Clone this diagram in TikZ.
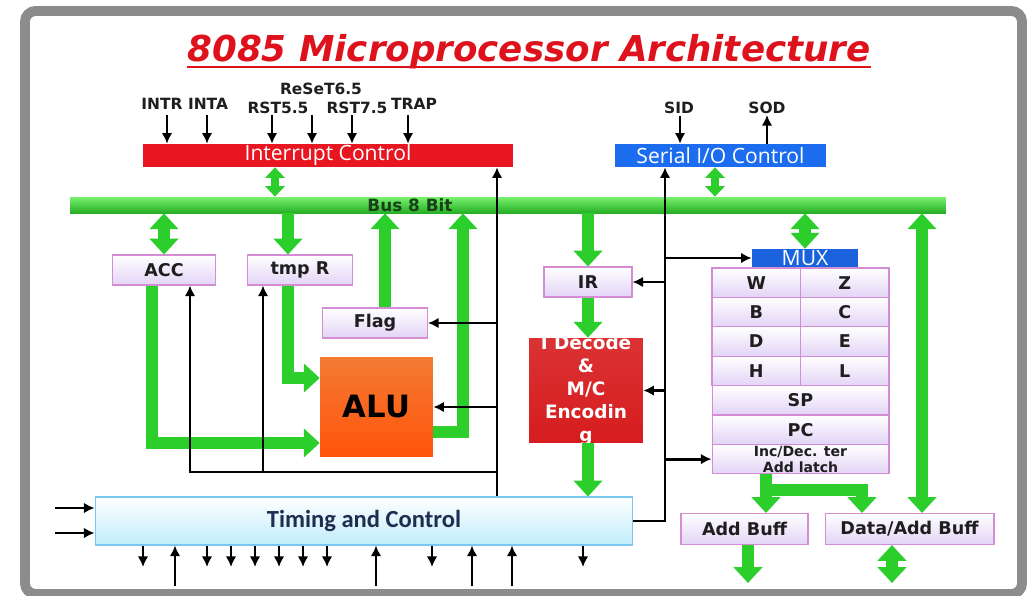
\documentclass[tikz,border=0pt]{standalone}
\usepackage{fontspec}
\setmainfont{DejaVu Sans}
\newfontfamily\osans{Open Sans}
\newfontfamily\carl{Carlito}
\usetikzlibrary{arrows.meta,calc}

\definecolor{framegray}{RGB}{140,140,140}
\definecolor{titlered}{RGB}{222,18,28}
\definecolor{intred}{RGB}{232,22,32}
\definecolor{decred}{RGB}{214,28,30}
\definecolor{sioblue}{RGB}{28,108,240}
\definecolor{gbus}{RGB}{44,206,44}
\definecolor{gbushi}{RGB}{120,240,110}
\definecolor{lavfill}{RGB}{226,212,246}
\definecolor{lavline}{RGB}{212,140,212}
\definecolor{tcfill}{RGB}{192,236,250}
\definecolor{tcline}{RGB}{120,200,240}
\definecolor{aluhi}{RGB}{244,122,52}
\definecolor{alulo}{RGB}{255,84,10}
\definecolor{navy}{RGB}{30,45,80}
\definecolor{ink}{RGB}{30,30,30}

\tikzset{
  reg/.style={
    draw=lavline,
    line width=0.6pt,
    top color=white,
    bottom color=lavfill,
    inner sep=0pt,
    text=ink,
    font=\bfseries\fontsize{10}{12}\selectfont
  },
  ctlbar/.style={
    inner sep=0pt,
    text=white,
    font=\osans\fontsize{12}{14}\selectfont
  },
  pinlbl/.style={
    inner sep=0pt,
    text=ink,
    font=\bfseries\fontsize{8.8}{10}\selectfont
  },
  sig/.style={
    draw=black,
    line width=1.6pt,
    -{Latex[length=6pt,width=6pt]}
  },
  gone/.style={
    draw=gbus,
    line width=6.8pt,
    -{Triangle[length=9pt,width=16pt]}
  },
  gtwo/.style={
    draw=gbus,
    line width=6.8pt,
    {Triangle[length=9pt,width=16pt]}-{Triangle[length=9pt,width=16pt]}
  },
  gsmall/.style={
    draw=gbus,
    line width=5pt,
    {Triangle[length=6pt,width=11pt]}-{Triangle[length=6pt,width=11pt]}
  },
}

\begin{document}
\begin{tikzpicture}[x=0.02cm,y=-0.02cm]
  \useasboundingbox (0,0) rectangle (1027,595);
  \fill[white] (0,0) rectangle (1027,595);
  \draw[framegray, line width=5.6pt, rounded corners=6pt] (25,11) rectangle (1022,594);

  % title
  \node[anchor=base, inner sep=0pt, text=titlered,
        font=\bfseries\itshape\fontsize{20.3}{24}\selectfont] (title) at (529,61)
        {8085 Microprocessor Architecture};
  \draw[titlered, line width=1.4pt] ([yshift=-3.4pt]title.base west) -- ([yshift=-3.4pt]title.base east);

  % control bars and bus
  \node[ctlbar, fill=intred, minimum width=7.4cm, minimum height=0.46cm] (intc) at (328,155.5) {Interrupt Control};
  \node[ctlbar, fill=sioblue, minimum width=4.22cm, minimum height=0.46cm] (sioc) at (720.5,155.5) {Serial I/O Control};
  \node[top color=gbushi, bottom color=gbus!85!black, minimum width=17.52cm, minimum height=0.32cm, inner sep=0pt] (bus) at (508,205) {};
  \node[inner sep=0pt, text=ink!85!green, font=\bfseries\fontsize{9.6}{11}\selectfont] (buslbl) at (410,205) {Bus 8 Bit};

  % interrupt pins
  \foreach \txt/\x/\lx/\ly [count=\i] in {INTR/167/162/104, INTA/207/208/104, RST5.5/272/278/108,
                                          ReSeT6.5/312/321/89, RST7.5/352/357/108, TRAP/408/414/104}{
    \node[pinlbl] (int\i) at (\lx,\ly) {\txt};
    \draw[sig] (\x,115) -- (\x,0 |- intc.north);
  }
  \node[pinlbl] (sid) at (679,108) {SID};
  \node[pinlbl] (sod) at (767,108) {SOD};
  \draw[sig] (680,116) -- (680,0 |- sioc.north);
  \draw[sig] (767,0 |- sioc.north) -- (767,115);

  % registers and ALU
  \node[reg, minimum width=2.06cm, minimum height=0.6cm] (acc) at (164,270) {ACC};
  \node[reg, minimum width=2.1cm, minimum height=0.6cm] (tmpr) at (300,270) {tmp R};
  \node[reg, minimum width=2.1cm, minimum height=0.6cm] (flag) at (375,323) {Flag};
  \node[top color=aluhi, bottom color=alulo, minimum width=2.26cm, minimum height=2cm, inner sep=0pt,
        font=\bfseries\fontsize{17.5}{20}\selectfont, text=black] (alu) at (376.5,407) {ALU};
  \node[reg, minimum width=1.76cm, minimum height=0.6cm] (ir) at (588,282) {IR};
  \node[top color=decred!90!white, bottom color=decred, minimum width=2.28cm, minimum height=2.1cm, inner sep=0pt] (dec) at (586,390.5) {};
  \begin{scope}
    \clip (dec.north west) rectangle (dec.south east);
    \node[align=center, text=white, inner sep=0pt, font=\bfseries\fontsize{10.5}{13}\selectfont] (dectxt) at (dec.center)
      {I Decode\\\&\\M/C\\Encodin\\g};
  \end{scope}
  \node[ctlbar, fill=sioblue!92!black, minimum width=2.12cm, minimum height=0.36cm] (mux) at (805,258) {MUX};
  \foreach \l/\r [count=\i] in {W/Z,B/C,D/E,H/L}{
    \node[reg, minimum width=1.77cm, minimum height=0.588cm] (r\l) at (756.25,{268+29.4*(\i-0.5)}) {\l};
    \node[reg, minimum width=1.77cm, minimum height=0.588cm] (r\r) at (844.75,{268+29.4*(\i-0.5)}) {\r};
  }
  \node[reg, minimum width=3.54cm, minimum height=0.588cm] (sp) at (800.5,400.3) {SP};
  \node[reg, minimum width=3.54cm, minimum height=0.588cm] (pc) at (800.5,429.7) {PC};
  \node[reg, minimum width=3.54cm, minimum height=0.588cm, align=center,
        font=\bfseries\fontsize{8}{9}\selectfont] (latch) at (800.5,459.1) {Inc/Dec. ter\\Add latch};
  \node[reg, minimum width=2.54cm, minimum height=0.62cm] (addb) at (744.5,529) {Add Buff};
  \node[reg, minimum width=3.38cm, minimum height=0.62cm] (dab) at (909.5,529) {Data/Add Buff};
  \node[draw=tcline, line width=0.6pt, top color=white, bottom color=tcfill, minimum width=10.76cm, minimum height=0.96cm,
        inner sep=0pt, text=navy, font=\carl\bfseries\fontsize{14}{16}\selectfont] (timing) at (364,521) {Timing and Control};

  % green data paths
  \draw[gsmall] (275,0 |- intc.south) -- (275,0 |- bus.north);
  \draw[gsmall] (715,0 |- sioc.south) -- (715,0 |- bus.north);
  \draw[gtwo] (bus.south -| acc.north) -- (acc.north);
  \draw[gone] (288,0 |- bus.south) -- (288,0 |- tmpr.north);
  \draw[gone] (385,0 |- flag.north) -- (385,0 |- bus.south);
  \draw[gone] (alu.east |- 0,432) -| (463,0 |- bus.south);
  \draw[gone] (152,0 |- acc.south) |- (alu.west |- 0,443);
  \draw[gone] (288,0 |- tmpr.south) |- (alu.west |- 0,378);
  \draw[gone] (bus.south -| ir.north) -- (ir.north);
  \draw[gone] (ir.south) -- (ir.south |- dec.north);
  \draw[gone] (ir.south |- dec.south) -- (ir.south |- timing.north);
  \draw[gtwo] (bus.south -| mux.north) -- (mux.north);
  \draw[gtwo] (922,0 |- bus.south) -- (922,0 |- dab.north);
  \coordinate (split) at (766,490);
  \draw[gone] (766,0 |- latch.south) -- (766,0 |- addb.north);
  \draw[gone] (split) -| (862,0 |- dab.north);
  \coordinate (abus) at (748,583);
  \coordinate (dbus) at (892,583);
  \draw[gone] (abus |- addb.south) -- (abus);
  \draw[gtwo] (dbus |- dab.south) -- (dbus);

  % control signals
  \coordinate (vl) at (497,472);
  \coordinate (vr) at (665,520);
  \draw[sig] (vl |- timing.north) -- (vl |- intc.south);
  \draw[sig] (vl |- flag.east) -- (flag.east);
  \draw[sig] (vl |- alu.east) -- (alu.east);
  \draw[sig] (vl) -- (190,472) -- (190,0 |- acc.south);
  \draw[sig] (263,472) -- (263,0 |- tmpr.south);
  \draw[sig] (timing.east) -| (vr |- sioc.south);
  \draw[sig] (vr |- ir.east) -- (ir.east);
  \draw[sig] (vr |- dec.east) -- (dec.east);
  \draw[sig] (vr |- mux.west) -- (mux.west);
  \draw[sig] (vr |- latch.west) -- (latch.west);

  % timing pins
  \foreach \y in {508,533}
    \draw[sig] (55,\y) -- (timing.west |- 0,\y);
  \foreach \x in {143,207,231,255,279,303,327,432,583}
    \draw[sig] (\x,0 |- timing.south) -- (\x,567);
  \foreach \x in {175,376,472,512}
    \draw[sig] (\x,586) -- (\x,0 |- timing.south);
\end{tikzpicture}
\end{document}
